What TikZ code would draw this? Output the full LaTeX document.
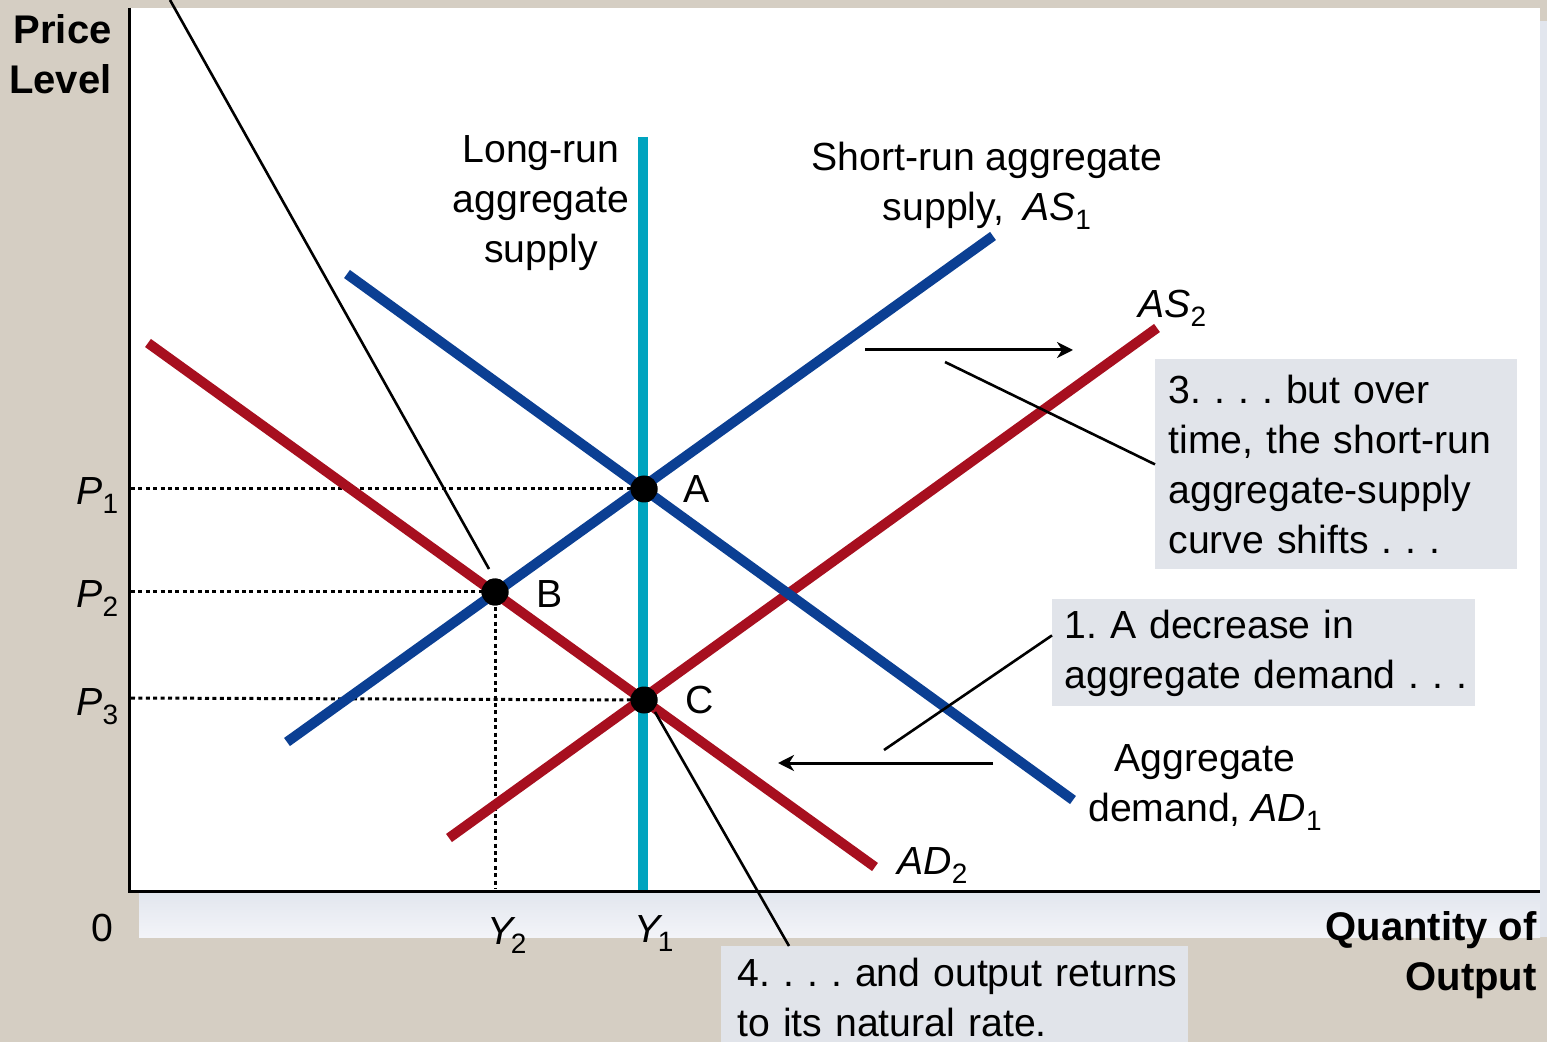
\documentclass[tikz,border=0pt]{standalone}
\usepackage{fontspec}
\setmainfont{Liberation Sans}
\usetikzlibrary{arrows.meta}
\definecolor{bgbeige}{HTML}{D5CEC3}
\definecolor{boxgray}{HTML}{E1E4EA}
\definecolor{asblue}{HTML}{0B3F93}
\definecolor{adred}{HTML}{A70F1F}
\definecolor{lrcyan}{HTML}{00A4BF}
\definecolor{shadowA}{HTML}{E2E6EE}
\definecolor{shadowB}{HTML}{F3F4F8}
\newcommand\lblfont{\fontsize{19.6}{25}\selectfont\frenchspacing}
\newcommand\lowsub[1]{\raisebox{-4.5pt}{\fontsize{14}{14}\selectfont #1}}
\begin{document}
\begin{tikzpicture}[x=0.5pt,y=-0.5pt,
  txt/.style={font=\lblfont, inner sep=0pt},
  axlbl/.style={font=\fontsize{20}{25}\selectfont\bfseries, inner sep=0pt},
  curve/.style={line width=5pt},
  axisline/.style={line width=1.5pt},
  callout/.style={line width=1.3pt},
  shiftarrow/.style={line width=1.5pt,-{Stealth[length=8pt,width=8pt,inset=2.5pt]}},
  dotline/.style={line width=1.5pt, dash pattern=on 2pt off 1.7pt},
  dot/.style={circle, fill=black, minimum size=13.5pt, inner sep=0pt},
  note/.style={fill=boxgray, font=\lblfont, align=left, inner ysep=0pt, anchor=north west}
]
\useasboundingbox (0,0) rectangle (1547,1042);
\clip (0,0) rectangle (1547,1042);
% background and plot area
\fill[bgbeige] (0,0) rectangle (1547,1042);
\fill[white] (128,8) rectangle (1540,891);
\shade[top color=shadowA, bottom color=shadowB] (139,892) rectangle (1540,937);
\fill[shadowA] (1540,21) rectangle (1547,937);

% axes
\coordinate (ytop) at (129,8);
\coordinate (orig) at (129,891);
\coordinate (xend) at (1540,891);
\draw[axisline] (ytop) -- (orig) -- (xend);

% equilibrium points
\node[dot] (A) at (644,489) {};
\node[dot] (B) at (495,592) {};
\node[dot] (C) at (644,700) {};

% dotted guides
\coordinate (p1ax) at (131,489);
\coordinate (p2ax) at (131,592);
\coordinate (p3ax) at (131,698);
\coordinate (y2ax) at (495,889);
\draw[dotline] (p1ax) -- (A.center);
\draw[dotline] (p2ax) -- (B.center);
\draw[dotline] (p3ax) -- (C.center);
\draw[dotline] (B.center) -- (y2ax);

% curves
\coordinate (ad2a) at (148,343);  \coordinate (ad2b) at (875,867);
\coordinate (as2a) at (449,838);  \coordinate (as2b) at (1157,328);
\coordinate (as1a) at (287,742);  \coordinate (as1b) at (993,236);
\coordinate (ad1a) at (347,274);  \coordinate (ad1b) at (1073,800);
\coordinate (lra) at (643,137);   \coordinate (lrb) at (643,890);
\draw[curve, adred] (ad2a) -- (ad2b);
\draw[curve, adred] (as2a) -- (as2b);
\draw[curve, asblue] (ad1a) -- (ad1b);
\draw[curve, asblue] (as1a) -- (as1b);
\draw[curve, lrcyan] (lra) -- (lrb);

% dots again on top
\node[dot] at (A.center) {};
\node[dot] at (B.center) {};
\node[dot] at (C.center) {};

% point labels
\node[txt] (Alb) at (697,489) {A};
\node[txt] (Blb) at (550,594) {B};
\node[txt] (Clb) at (700,700) {C};

% axis labels
\node[axlbl, anchor=east, align=right] (ylabel) at (112,54) {Price\\Level};
\node[axlbl, anchor=east, align=right] (xlabel) at (1537,955) {Quantity of\\Output};
\node[txt] (zero) at (102,928) {0};
\node[txt, anchor=base west] (P1) at (76,505) {\textit{P}\lowsub{1}};
\node[txt, anchor=base west] (P2) at (76,608) {\textit{P}\lowsub{2}};
\node[txt, anchor=base west] (P3) at (76,715) {\textit{P}\lowsub{3}};
\node[txt, anchor=base west] (Y2) at (487,944) {\textit{Y}\kern-2.5pt\lowsub{2}};
\node[txt, anchor=base west] (Y1) at (634,942) {\textit{Y}\kern-2.5pt\lowsub{1}};

% curve labels
\node[txt, align=center] (lraslbl) at (541,203) {Long-run\\aggregate\\supply};
\node[txt, align=center] (as1lbl) at (987,186) {Short-run aggregate\\supply,\ \hspace{4pt}\textit{AS}\lowsub{1}};
\node[txt, anchor=base west] (as2lbl) at (1138,318) {\textit{AS}\lowsub{2}};
\node[txt, align=center] (ad1lbl) at (1205,788) {Aggregate\\demand, \textit{AD}\lowsub{1}};
\node[txt, anchor=base west] (ad2lbl) at (897,874) {\textit{AD}\lowsub{2}};

% note boxes
\node[note, text width=199.5pt, inner xsep=6pt, minimum height=53.5pt] (note1) at (1052,599) {\mbox{1. A decrease in}\\\mbox{aggregate demand . . .}};
\node[note, text width=168pt, inner xsep=6.5pt, minimum height=105pt] (note3) at (1155,359) {\mbox{3. . . . but over}\\\mbox{time, the short-run}\\\mbox{aggregate-supply}\\\mbox{curve shifts . . .}};
\node[note, text width=217.5pt, inner xsep=8pt, minimum height=51.5pt] (note4) at (721,946) {\mbox{4. . . . and output returns}\\\mbox{to its natural rate.}};

% shift arrows
\coordinate (sr1) at (865,350); \coordinate (sr2) at (1073,350);
\draw[shiftarrow] (sr1) -- (sr2);
\coordinate (sl1) at (993,763); \coordinate (sl2) at (778,763);
\draw[shiftarrow] (sl1) -- (sl2);

% callout lines
\coordinate (c2top) at (170,0); \coordinate (c2end) at (489,569);
\draw[callout] (c2top) -- (c2end);
\coordinate (c3end) at (945,362);
\draw[callout] (note3.west) -- (c3end);
\coordinate (c1end) at (884,750);
\draw[callout] ([yshift=8.75pt]note1.west) -- (c1end);
\coordinate (c4end) at (655,712);
\draw[callout] ([xshift=34pt]note4.north west) -- (c4end);
\end{tikzpicture}
\end{document}
